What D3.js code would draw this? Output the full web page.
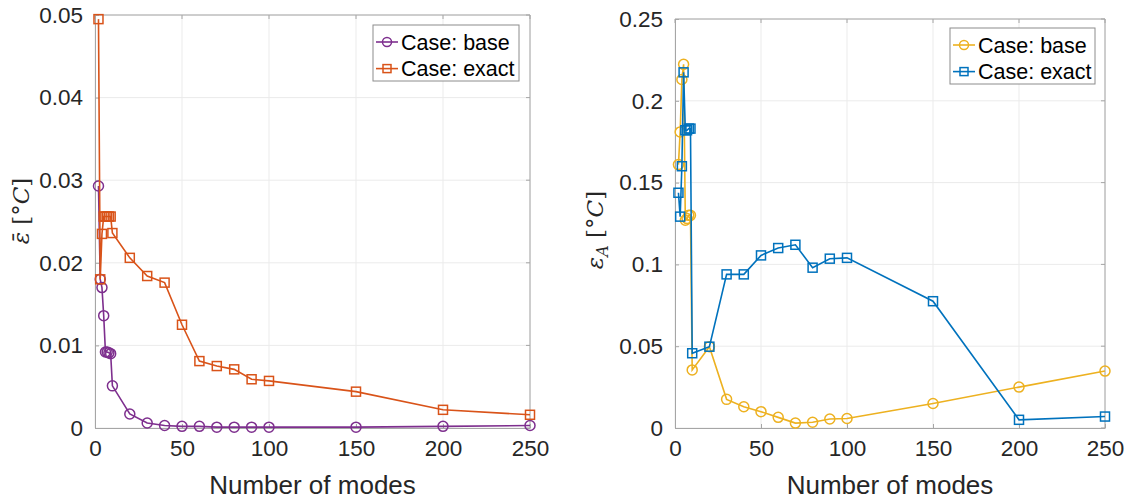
<!DOCTYPE html>
<html>
<head>
<meta charset="utf-8">
<script src="https://cdn.jsdelivr.net/npm/d3@7"></script>
<style>
  body { margin: 0; background: #fff; }
  svg { font-family: "Liberation Sans", Arial, sans-serif; }
</style>
</head>
<body>
<svg id="chart" width="1131" height="504"></svg>
<script>
// shared x values (number of modes)
const modes = [2, 3, 4, 5, 6, 7, 8, 9, 10, 20, 30, 40, 50, 60, 70, 80, 90, 100, 150, 200, 250]

// left panel: mean error
const leftBase = [0.0293, 0.0180, 0.0170, 0.0136, 0.0092, 0.0092, 0.0091, 0.0090, 0.0051, 0.0017, 0.0006, 0.0003, 0.0002, 0.0002, 0.0001, 0.0001, 0.0001, 0.0001, 0.0001, 0.0002, 0.0003]
const leftExact = [0.0495, 0.0180, 0.0235, 0.0256, 0.0256, 0.0256, 0.0256, 0.0256, 0.0236, 0.0206, 0.0184, 0.0176, 0.0125, 0.0081, 0.0075, 0.0071, 0.0059, 0.0057, 0.0044, 0.0022, 0.0016]

// right panel: error A
const rightBase = [0.161, 0.181, 0.213, 0.2223, 0.127, 0.128, 0.130, 0.130, 0.0355, 0.0497, 0.0175, 0.0130, 0.0100, 0.0065, 0.0030, 0.0035, 0.0055, 0.0058, 0.0150, 0.0250, 0.0348]
const rightExact = [0.1438, 0.1292, 0.160, 0.2174, 0.182, 0.182, 0.183, 0.183, 0.0457, 0.0497, 0.0939, 0.0939, 0.1055, 0.1100, 0.1120, 0.0980, 0.1035, 0.1040, 0.0775, 0.0050, 0.0070]

const xTicks = [0, 50, 100, 150, 200, 250]
const leftYTicks = [0, 0.01, 0.02, 0.03, 0.04, 0.05]
const rightYTicks = [0, 0.05, 0.1, 0.15, 0.2, 0.25]
const legendLabels = ['Case: base', 'Case: exact']

const svg = d3.select('#chart')
const axisColor = '#a6a6a6'
const textColor = '#262626'

function drawPanel(opts) {
    const { left, right, top, bottom, yMax, yTicks, yFmt, series, legend } = opts
    const x = d3.scaleLinear().domain([0, 250]).range([left, right])
    const y = d3.scaleLinear().domain([0, yMax]).range([bottom, top])
    const g = svg.append('g')

    // grid
    g.selectAll('.gx').data(xTicks).join('line')
        .attr('x1', d => x(d)).attr('x2', d => x(d))
        .attr('y1', top).attr('y2', bottom)
        .attr('stroke', '#ebebeb').attr('stroke-width', 1)
    g.selectAll('.gy').data(yTicks).join('line')
        .attr('x1', left).attr('x2', right)
        .attr('y1', d => y(d)).attr('y2', d => y(d))
        .attr('stroke', '#ebebeb').attr('stroke-width', 1)

    // axes with inward ticks
    const xAxis = g.append('g')
        .attr('transform', `translate(0,${bottom})`)
        .call(d3.axisBottom(x).tickValues(xTicks).tickSizeInner(-4).tickSizeOuter(0).tickPadding(14))
    const yAxis = g.append('g')
        .attr('transform', `translate(${left},0)`)
        .call(d3.axisLeft(y).tickValues(yTicks).tickFormat(yFmt).tickSizeInner(-4).tickSizeOuter(0).tickPadding(12))
    ;[xAxis, yAxis].forEach(a => {
        a.select('.domain').attr('stroke', axisColor)
        a.selectAll('.tick line').attr('stroke', axisColor)
        a.selectAll('.tick text').attr('fill', textColor).style('font-size', '22.5px')
    })
    xAxis.selectAll('.tick text').attr('dy', '0.6em')
    // top and right box
    g.append('path')
        .attr('d', `M${left},${top}H${right}V${bottom}`)
        .attr('fill', 'none').attr('stroke', axisColor)
    // top/right inward ticks
    g.selectAll('.tt').data(xTicks).join('line')
        .attr('x1', d => x(d)).attr('x2', d => x(d))
        .attr('y1', top).attr('y2', top + 4).attr('stroke', axisColor)
    g.selectAll('.tr').data(yTicks).join('line')
        .attr('x1', right).attr('x2', right - 4)
        .attr('y1', d => y(d)).attr('y2', d => y(d)).attr('stroke', axisColor)

    // x label
    g.append('text')
        .attr('x', (left + right) / 2).attr('y', 494)
        .attr('text-anchor', 'middle').attr('fill', textColor)
        .style('font-size', '26px').text('Number of modes')

    const line = d3.line().x(d => x(d[0])).y(d => y(d[1]))
    series.forEach(s => {
        const pts = modes.map((m, i) => [m, s.values[i]])
        g.append('path').datum(pts)
            .attr('d', line).attr('fill', 'none')
            .attr('stroke', s.color).attr('stroke-width', 1.6)
        if (s.marker === 'circle') {
            g.selectAll(null).data(pts).join('circle')
                .attr('cx', d => x(d[0])).attr('cy', d => y(d[1])).attr('r', 5)
                .attr('fill', 'none').attr('stroke', s.color).attr('stroke-width', 1.5)
        } else {
            g.selectAll(null).data(pts).join('rect')
                .attr('x', d => x(d[0]) - 4.5).attr('y', d => y(d[1]) - 4.5)
                .attr('width', 9).attr('height', 9)
                .attr('fill', 'none').attr('stroke', s.color).attr('stroke-width', 1.5)
        }
    })

    // legend
    const lg = g.append('g').attr('transform', `translate(${legend.x},${legend.y})`)
    lg.append('rect').attr('width', legend.w).attr('height', 56)
        .attr('fill', '#fff').attr('stroke', '#8c8c8c').attr('stroke-width', 1)
    series.forEach((s, i) => {
        const cy = 17 + i * 26.6
        lg.append('line').attr('x1', 3).attr('x2', 25).attr('y1', cy).attr('y2', cy)
            .attr('stroke', s.color).attr('stroke-width', 1.6)
        if (s.marker === 'circle') {
            lg.append('circle').attr('cx', 14).attr('cy', cy).attr('r', 4.5)
                .attr('fill', 'none').attr('stroke', s.color).attr('stroke-width', 1.5)
        } else {
            lg.append('rect').attr('x', 10).attr('y', cy - 4).attr('width', 8).attr('height', 8)
                .attr('fill', 'none').attr('stroke', s.color).attr('stroke-width', 1.5)
        }
        lg.append('text').attr('x', 28).attr('y', cy + 7.5)
            .attr('fill', '#000').style('font-size', '21.5px').text(legendLabels[i])
    })
}

drawPanel({
    left: 95, right: 530, top: 15, bottom: 428, yMax: 0.05,
    yTicks: leftYTicks, yFmt: d => d === 0 ? '0' : d3.format('.2f')(d),
    series: [
        { values: leftBase, color: '#7e2f8e', marker: 'circle' },
        { values: leftExact, color: '#d95319', marker: 'square' }
    ],
    legend: { x: 373, y: 25, w: 146 }
})

drawPanel({
    left: 675, right: 1105, top: 19, bottom: 428, yMax: 0.25,
    yTicks: rightYTicks, yFmt: d => d === 0 ? '0' : String(d),
    series: [
        { values: rightBase, color: '#edb120', marker: 'circle' },
        { values: rightExact, color: '#0072bd', marker: 'square' }
    ],
    legend: { x: 950, y: 28, w: 145 }
})

// y labels (math style)
const ly = svg.append('text')
    .attr('transform', 'translate(29,211) rotate(-90)')
    .attr('text-anchor', 'middle').attr('fill', textColor)
    .style('font-family', '"DejaVu Serif", "Liberation Serif", serif').style('font-size', '23px')
ly.append('tspan').style('font-style', 'italic').text('ε\u0304')
ly.append('tspan').text(' [°')
ly.append('tspan').style('font-style', 'italic').text('C')
ly.append('tspan').text(']')

const ry = svg.append('text')
    .attr('transform', 'translate(603,230) rotate(-90)')
    .attr('text-anchor', 'middle').attr('fill', textColor)
    .style('font-family', '"DejaVu Serif", "Liberation Serif", serif').style('font-size', '23px')
ry.append('tspan').style('font-style', 'italic').text('ε')
ry.append('tspan').style('font-style', 'italic').style('font-size', '16px').attr('dy', 5).text('A')
ry.append('tspan').attr('dy', -5).text(' [°')
ry.append('tspan').style('font-style', 'italic').text('C')
ry.append('tspan').text(']')
</script>
</body>
</html>
